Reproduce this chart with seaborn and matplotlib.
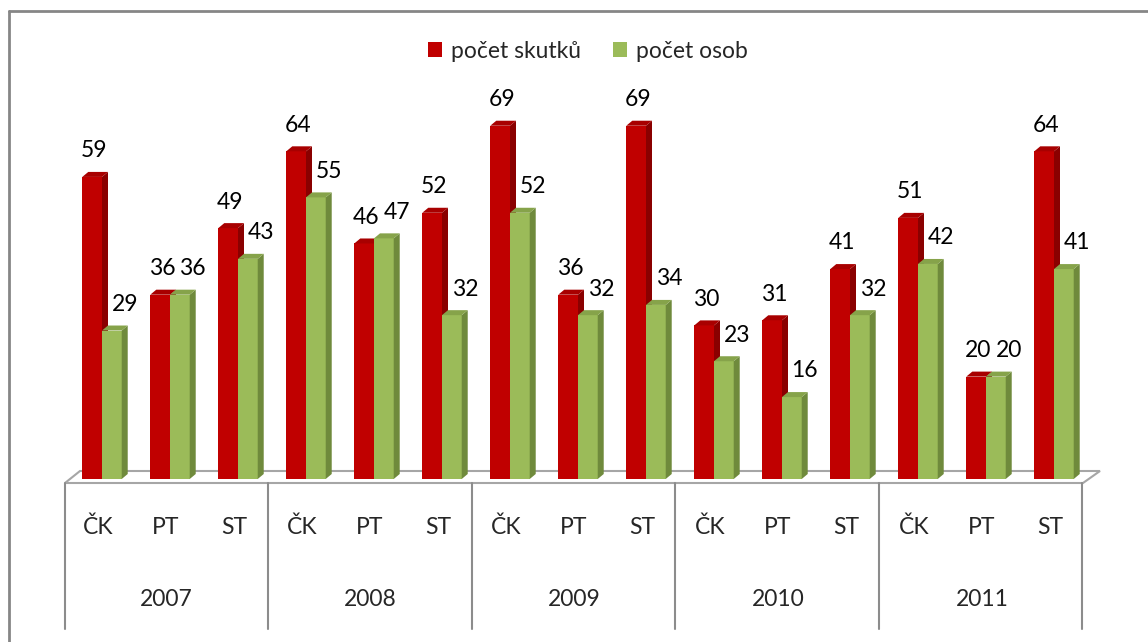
import numpy as np
import pandas as pd
import matplotlib
matplotlib.use("Agg")
import matplotlib.pyplot as plt
from matplotlib.patches import Polygon, Patch
from matplotlib.lines import Line2D
import seaborn as sns

years = ['2007', '2008', '2009', '2010', '2011']
regions = ['ČK', 'PT', 'ST']
skutky = [59, 36, 49, 64, 46, 52, 69, 36, 69, 30, 31, 41, 51, 20, 64]
osoby = [29, 36, 43, 55, 47, 32, 52, 32, 34, 23, 16, 32, 42, 20, 41]
series = ['počet skutků', 'počet osob']
colors = ['#C00000', '#9BBB59']
side_colors = ['#8A0000', '#6F8A3C']
top_colors = ['#A80000', '#86A34A']

cats = [f'{y} {r}' for y in years for r in regions]
df = pd.DataFrame({
    'kat': cats * 2,
    'serie': [series[0]] * len(cats) + [series[1]] * len(cats),
    'hodnota': skutky + osoby,
})

sns.set_style('white')
plt.rcParams['font.family'] = ['Lato', 'DejaVu Sans']
FS = 16.5

fig = plt.figure(figsize=(11.48, 6.42), dpi=100)
px_unit = 5.12
ax = fig.add_axes([68 / 1148, (642 - 479) / 642, 1020 / 1148, 75 * px_unit / 642])

sns.barplot(data=df, x='kat', y='hodnota', hue='serie', palette=colors,
            width=0.58, saturation=1, legend=False, ax=ax, order=cats,
            hue_order=series)
ax.set_xlim(-0.5, 14.5)
ax.set_ylim(0, 75)
ax.axis('off')

# 3D effect on the bars
dx = 6 / 68
dy = 5 / px_unit
n = len(cats)
for k, p in enumerate(ax.patches[:2 * n]):
    s = k // n
    z = 2 + s
    p.set_zorder(z)
    p.set_edgecolor('none')
    x0, w, h = p.get_x(), p.get_width(), p.get_height()
    side = Polygon([(x0 + w, 0), (x0 + w + dx, dy), (x0 + w + dx, h + dy), (x0 + w, h)],
                   closed=True, facecolor=side_colors[s], edgecolor='none', zorder=z)
    top = Polygon([(x0, h), (x0 + dx, h + dy), (x0 + w + dx, h + dy), (x0 + w, h)],
                  closed=True, facecolor=top_colors[s], edgecolor='none', zorder=z)
    ax.add_patch(side)
    ax.add_patch(top)
    xc = x0 + w / 2 + (0.03 if s == 0 else 0.19)
    ax.text(xc, h + 5.1, str(int(round(h))), ha='center', va='center',
            fontsize=FS, color='black', zorder=5, clip_on=False)

# floor
def py(v):
    return (479 - v) / px_unit

def pxx(v):
    return (v - 68) / 68 - 0.5

floor = Polygon([(pxx(65), py(483)), (pxx(80), py(471)), (pxx(1100), py(471)), (pxx(1083), py(483))],
                closed=True, facecolor='white', edgecolor='#A6A6A6', lw=1.5, zorder=1,
                clip_on=False)
ax.add_patch(floor)

# category table below the floor
for xl in [65, 268, 472, 675, 879, 1082]:
    ax.add_line(Line2D([pxx(xl), pxx(xl)], [py(483), py(629)], color='#8C8C8C', lw=1.5,
                       clip_on=False, zorder=1))
for i, c in enumerate(cats):
    ax.text(i - 0.06, py(527), c.split(' ')[1], ha='center', va='center', fontsize=FS,
            clip_on=False)
for j, y in enumerate(years):
    ax.text(3 * j + 1 - 0.06, py(600), y, ha='center', va='center', fontsize=FS,
            clip_on=False)

# legend
handles = [Patch(facecolor=c, edgecolor='none') for c in colors]
fig.legend(handles, series, loc='center', bbox_to_anchor=(588 / 1148, 1 - 51 / 642),
           ncol=2, frameon=False, fontsize=FS, handlelength=0.6, handleheight=0.6,
           handletextpad=0.4, columnspacing=1.4)

# chart border
fig.add_artist(Line2D([9 / 1148, 1], [1 - 11 / 642, 1 - 11 / 642], color='#868686', lw=2))
fig.add_artist(Line2D([9 / 1148, 9 / 1148], [0, 1 - 11 / 642], color='#868686', lw=2))

fig.savefig('out.png', dpi=100)
